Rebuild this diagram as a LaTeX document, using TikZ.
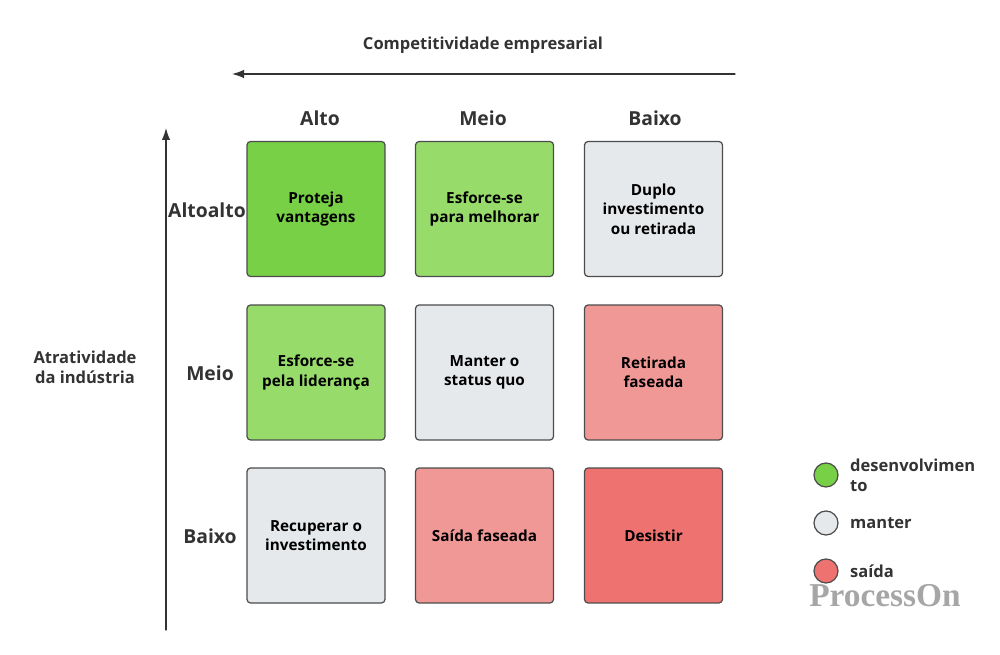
\documentclass[tikz,border=0pt]{standalone}
\usepackage{fontspec}
\setmainfont{Open Sans}
\usetikzlibrary{arrows.meta}
\definecolor{grow}{HTML}{77D046}
\definecolor{growlight}{HTML}{97DC6A}
\definecolor{keep}{HTML}{E6E9EC}
\definecolor{exitlight}{HTML}{F09896}
\definecolor{exit}{HTML}{EE7370}
\definecolor{ink}{HTML}{333333}
\begin{document}
\begin{tikzpicture}[x=0.02cm, y=-0.02cm, line cap=round, line join=round,
  cell/.style={draw=black!70, line width=0.7pt, rounded corners=2pt, minimum width=2.76cm,
    minimum height=2.7cm, align=center, text=black, font=\bfseries\fontsize{8.7}{11}\selectfont},
  axislabel/.style={text=ink, font=\bfseries\fontsize{11}{13}\selectfont},
  title/.style={text=ink, align=center, font=\bfseries\fontsize{9.4}{11.5}\selectfont},
  dot/.style={circle, draw=black!70, line width=0.7pt, minimum size=0.48cm, inner sep=0pt},
  legendtext/.style={anchor=west, align=left, text=ink, font=\bfseries\fontsize{9.4}{11.5}\selectfont},
  axis/.style={draw=ink, line width=0.7pt, -{Latex[length=2.4mm, width=1.7mm]}}]
\useasboundingbox (0,0) rectangle (1000,655);

% Axes
\coordinate (xstart) at (735,74);
\coordinate (xend) at (232,74);
\coordinate (ystart) at (166,630);
\coordinate (yend) at (166,128);
\draw[axis] (xstart) -- (xend);
\draw[axis] (ystart) -- (yend);
\node[title] (xtitle) at (483,45) {Competitividade empresarial};
\node[title] (ytitle) at (85,367) {Atratividade\\da indústria};

% Column headers
\node[axislabel] (colA) at (320,118) {Alto};
\node[axislabel] (colB) at (483,118) {Meio};
\node[axislabel] (colC) at (655,118) {Baixo};

% Row headers
\node[axislabel] (rowA) at (207,210) {Altoalto};
\node[axislabel] (rowB) at (210,373) {Meio};
\node[axislabel] (rowC) at (210,536) {Baixo};

% Matrix cells
\node[cell, fill=grow] (cellAA) at (316,209) {Proteja\\vantagens};
\node[cell, fill=growlight] (cellAB) at (484.5,209) {Esforce-se\\para melhorar};
\node[cell, fill=keep] (cellAC) at (653.5,209) {Duplo\\investimento\\ou retirada};
\node[cell, fill=growlight] (cellBA) at (316,372.5) {Esforce-se\\pela liderança};
\node[cell, fill=keep] (cellBB) at (484.5,372.5) {Manter o\\status quo};
\node[cell, fill=exitlight] (cellBC) at (653.5,372.5) {Retirada\\faseada};
\node[cell, fill=keep] (cellCA) at (316,535.5) {Recuperar o\\investimento};
\node[cell, fill=exitlight] (cellCB) at (484.5,535.5) {Saída faseada};
\node[cell, fill=exit] (cellCC) at (653.5,535.5) {Desistir};

% Legend
\node[dot, fill=grow] (dotA) at (826,475) {};
\node[dot, fill=keep] (dotB) at (826,523) {};
\node[dot, fill=exit] (dotC) at (826,571) {};
\node[legendtext] (legA) at (844,475) {desenvolvimen\\to};
\node[legendtext] (legB) at (844,523) {manter};
\node[legendtext] (legC) at (844,571) {saída};

% Watermark
\node[text=black!35, font=\fontspec{Liberation Serif}\bfseries\fontsize{19}{21}\selectfont] (mark) at (885,596) {ProcessOn};

\end{tikzpicture}
\end{document}
